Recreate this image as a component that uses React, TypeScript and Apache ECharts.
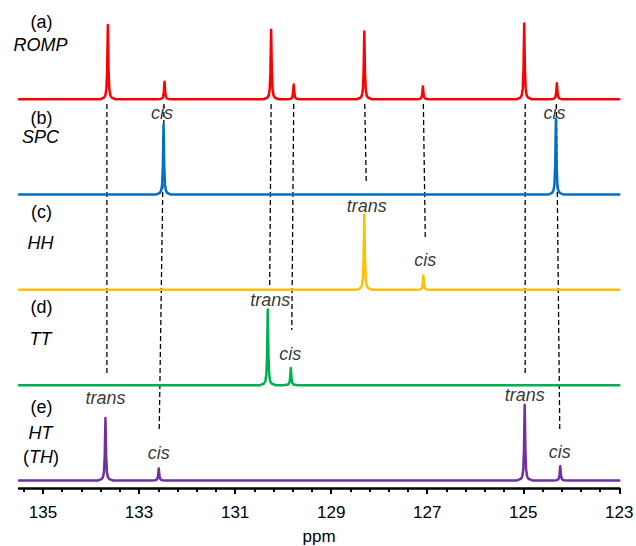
import React, { useEffect, useRef } from 'react';
import * as echarts from 'echarts';

// ---- axis ----
const X_MIN = 123;
const X_MAX = 135.5;
const TICK_START = 135.4; // first minor tick at the left end
const MAJOR_INTERVAL = 2;
const MINOR_INTERVAL = 0.4;
const Y_MIN = -0.08;
const Y_MAX = 4.9;

// ---- spectra (peak positions in ppm, heights relative to trace spacing) ----
const ROMP_PPM = [133.65, 132.47, 130.25, 129.78, 128.31, 127.09, 124.98, 124.3];
const ROMP_H = [0.78, 0.185, 0.73, 0.155, 0.71, 0.135, 0.795, 0.167];
const SPC_PPM = [132.49, 124.32];
const SPC_H = [0.735, 0.795];
const HH_PPM = [128.31, 127.08];
const HH_H = [0.79, 0.15];
const TT_PPM = [130.32, 129.84];
const TT_H = [0.795, 0.18];
const HT_PPM = [133.7, 132.59, 124.97, 124.23];
const HT_H = [0.655, 0.125, 0.795, 0.15];
const OFFSETS = [4, 3, 2, 1, 0];
const COLORS = ['#FF0000', '#0070C0', '#FFC000', '#00B050', '#7030A0'];
const NAMES = ['ROMP', 'SPC', 'HH', 'TT', 'HT'];

// peak line shape (distance from centre in ppm, fraction of height)
const SHAPE_OFFSETS = [0.16, 0.08, 0.05, 0.03, 0.015];
const SHAPE_FRACS = [0, 0.022, 0.055, 0.14, 0.39];

// ---- dashed guide lines ----
const DASH_TOP_PPM = [133.67, 132.48, 130.25, 129.78, 128.3, 127.08, 124.96, 124.31];
const DASH_BOTTOM_PPM = [133.67, 132.58, 130.28, 129.82, 128.27, 127.04, 124.96, 124.24];
const DASH_TOP_Y = 3.95;
const DASH_BOTTOM_Y = [1.107, 0.537, 2.03, 1.579, 3.13, 2.545, 1.128, 0.537];

// ---- peak annotations ----
const ANNOT_TEXT = ['cis', 'cis', 'trans', 'cis', 'trans', 'cis', 'trans', 'cis', 'trans', 'cis'];
const ANNOT_PPM = [132.52, 124.35, 128.26, 127.04, 130.27, 129.85, 133.7, 132.59, 124.97, 124.24];
const ANNOT_Y = [3.853, 3.856, 2.88, 2.314, 1.894, 1.327, 0.8625, 0.285, 0.897, 0.302];

// ---- trace labels ----
const TRACE_LETTERS = ['(a)', '(b)', '(c)', '(d)', '(e)'];

const FONT = '"Liberation Sans", Arial, sans-serif';
const TXT = '#000';

function buildSpectrum(ppms: number[], heights: number[], offset: number) {
  const pts: number[][] = [[X_MAX, offset]];
  const peaks = ppms.map((p, i) => [p, heights[i]]).sort((a, b) => b[0] - a[0]);
  for (const [p, h] of peaks) {
    for (let k = 0; k < SHAPE_OFFSETS.length; k++) {
      pts.push([p + SHAPE_OFFSETS[k], offset + h * SHAPE_FRACS[k]]);
    }
    pts.push([p, offset + h]);
    for (let k = SHAPE_OFFSETS.length - 1; k >= 0; k--) {
      pts.push([p - SHAPE_OFFSETS[k], offset + h * SHAPE_FRACS[k]]);
    }
  }
  pts.push([X_MIN, offset]);
  return pts;
}

export default function App() {
  const ref = useRef<HTMLDivElement>(null);

  useEffect(() => {
    if (!ref.current) return;
    const chart = echarts.init(ref.current, null, { renderer: 'svg' });

    const W = 636;
    const PLOT_LEFT = 19;
    const PLOT_RIGHT = 16.7;
    const PLOT_TOP = 13.5;
    const PLOT_BOTTOM = 57.9;
    const pxPerPpm = (W - PLOT_LEFT - PLOT_RIGHT) / (X_MAX - X_MIN);
    const minorLeft = PLOT_LEFT + (X_MAX - TICK_START) * pxPerPpm;
    const majorLeft = PLOT_LEFT + (X_MAX - 135) * pxPerPpm;

    const specs = [
      [ROMP_PPM, ROMP_H],
      [SPC_PPM, SPC_H],
      [HH_PPM, HH_H],
      [TT_PPM, TT_H],
      [HT_PPM, HT_H],
    ];

    const spectrumSeries = specs.map((s, i) => ({
      type: 'line',
      name: NAMES[i],
      xAxisIndex: 0,
      yAxisIndex: 0,
      data: buildSpectrum(s[0] as number[], s[1] as number[], OFFSETS[i]),
      showSymbol: false,
      symbol: 'none',
      smooth: false,
      z: 3,
      lineStyle: { color: COLORS[i], width: 2.5, join: 'round', cap: 'round' },
      silent: true,
    }));

    const dashSeries = DASH_TOP_PPM.map((p, i) => ({
      type: 'line',
      xAxisIndex: 0,
      yAxisIndex: 0,
      data: [
        [p, DASH_TOP_Y],
        [DASH_BOTTOM_PPM[i], DASH_BOTTOM_Y[i]],
      ],
      symbol: 'none',
      z: 2,
      lineStyle: { color: '#000', width: 1.3, type: [5, 3] },
      silent: true,
    }));

    const annotSeries = {
      type: 'scatter',
      xAxisIndex: 0,
      yAxisIndex: 0,
      symbol: 'circle',
      symbolSize: 1,
      itemStyle: { color: 'rgba(0,0,0,0)' },
      data: ANNOT_PPM.map((p, i) => [p, ANNOT_Y[i], ANNOT_TEXT[i]]),
      label: {
        show: true,
        position: 'inside',
        formatter: (d: any) => d.data[2],
        fontSize: 18,
        fontStyle: 'italic',
        fontFamily: FONT,
        color: TXT,
      },
      z: 4,
      silent: true,
    };

    const labelStyle = (text: string, italic: boolean) => ({
      text,
      fontSize: 18,
      fontFamily: FONT,
      fontStyle: italic ? 'italic' : 'normal',
      fill: TXT,
      align: 'center',
      verticalAlign: 'middle',
      textAlign: 'center',
      textVerticalAlign: 'middle',
    });

    const letterY = [21.7, 118.3, 211.7, 307.3, 407.3];
    const nameY = [45, 136.7, 243.3, 339, 433.3];
    const graphics: any[] = [];
    TRACE_LETTERS.forEach((t, i) => {
      graphics.push({ type: 'text', x: 41.5, y: letterY[i], style: labelStyle(t, false) });
      graphics.push({ type: 'text', x: 40.5, y: nameY[i], style: labelStyle(NAMES[i], true) });
    });
    graphics.push({
      type: 'text',
      x: 41,
      y: 456.7,
      style: {
        text: '{n|(}{i|TH}{n|)}',
        fontSize: 18,
        fontFamily: FONT,
        fill: TXT,
        align: 'center',
        verticalAlign: 'middle',
        textAlign: 'center',
        textVerticalAlign: 'middle',
        rich: {
          n: { fontSize: 18, fontFamily: FONT, fontStyle: 'normal', fill: TXT, color: TXT },
          i: { fontSize: 18, fontFamily: FONT, fontStyle: 'italic', fill: TXT, color: TXT },
        },
      },
    });

    const hiddenY = (gridIndex: number) => ({
      type: 'value',
      gridIndex,
      min: Y_MIN,
      max: Y_MAX,
      show: false,
    });

    const gridBase = {
      right: PLOT_RIGHT,
      top: PLOT_TOP,
      bottom: PLOT_BOTTOM,
      containLabel: false,
      outerBoundsMode: 'none',
    };

    chart.setOption({
      animation: false,
      backgroundColor: '#fff',
      grid: [
        { ...gridBase, left: PLOT_LEFT },
        { ...gridBase, left: minorLeft },
        { ...gridBase, left: majorLeft },
      ],
      xAxis: [
        {
          type: 'value',
          gridIndex: 0,
          inverse: true,
          min: X_MIN,
          max: X_MAX,
          axisLine: { show: true, onZero: false, lineStyle: { color: '#000', width: 2.5 } },
          axisTick: { show: false },
          axisLabel: { show: false },
          splitLine: { show: false },
          name: 'ppm',
          nameLocation: 'middle',
          nameGap: 40,
          nameTextStyle: { fontSize: 17, color: TXT, fontFamily: FONT },
        },
        {
          type: 'value',
          gridIndex: 1,
          inverse: true,
          min: X_MIN,
          max: TICK_START,
          interval: MINOR_INTERVAL,
          axisLine: { show: false, onZero: false },
          axisTick: { show: true, inside: false, length: 4, lineStyle: { color: '#000', width: 2 } },
          axisLabel: { show: false },
          splitLine: { show: false },
        },
        {
          type: 'value',
          gridIndex: 2,
          inverse: true,
          min: X_MIN,
          max: 135,
          interval: MAJOR_INTERVAL,
          axisLine: { show: false, onZero: false },
          axisTick: { show: true, inside: false, length: 6, lineStyle: { color: '#000', width: 2 } },
          axisLabel: {
            show: true,
            margin: 16,
            fontSize: 17,
            color: TXT,
            fontFamily: FONT,
            showMinLabel: true,
            showMaxLabel: true,
          },
          splitLine: { show: false },
        },
      ],
      yAxis: [hiddenY(0), hiddenY(1), hiddenY(2)],
      graphic: graphics,
      series: [...dashSeries, ...spectrumSeries, annotSeries],
    });

    return () => chart.dispose();
  }, []);

  return (
    <div
      ref={ref}
      style={{ position: 'absolute', left: 0, top: 0, width: 636, height: 546, background: '#fff' }}
    />
  );
}
